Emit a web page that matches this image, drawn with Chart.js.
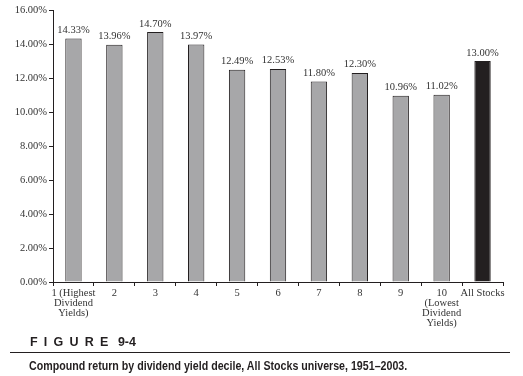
<!DOCTYPE html>
<html>
<head>
<meta charset="utf-8">
<script src="https://cdn.jsdelivr.net/npm/chart.js@4/dist/chart.umd.min.js"></script>
<style>
    body { margin: 0; background: #fff; }
    #wrap { position: relative; width: 523px; height: 376px; }
    #fig { position: absolute; left: 30px; top: 335px; font: bold 12.5px "Liberation Sans", Arial, sans-serif; color: #231f20; white-space: nowrap; }
    #fig .sp { letter-spacing: 6.2px; }
    #rule { position: absolute; left: 10px; top: 352px; width: 500px; height: 0; border-top: 1px solid #231f20; }
    #caption { position: absolute; left: 29px; top: 359px; font: bold 12px "Liberation Sans", Arial, sans-serif; color: #231f20; white-space: nowrap; transform: scaleX(0.887); transform-origin: left top; }
</style>
</head>
<body>
<div id="wrap">
    <canvas id="decile-chart" width="523" height="376"></canvas>
    <div id="fig"><span class="sp">FIGURE</span> 9-4</div>
    <div id="rule"></div>
    <div id="caption">Compound return by dividend yield decile, All Stocks universe, 1951–2003.</div>
</div>
<script>
var deciles = [
    ["1 (Highest", "Dividend", "Yields)"], "2", "3", "4", "5", "6", "7", "8", "9",
    ["10", "(Lowest", "Dividend", "Yields)"], "All Stocks"
];
var returns = [14.33, 13.96, 14.70, 13.97, 12.49, 12.53, 11.80, 12.30, 10.96, 11.02, 13.00];
var yTicks = [0, 2, 4, 6, 8, 10, 12, 14, 16];

var barColors = [];
returns.forEach(function (v, i) {
    barColors.push(i == returns.length - 1 ? "#231f20" : "#a7a7a9");
});

var serif = "'Liberation Serif', 'DejaVu Serif', serif";

// value labels above bars
var valueLabels = {
    id: 'valueLabels',
    afterDatasetsDraw: function (chart) {
        var ctx = chart.ctx;
        var meta = chart.getDatasetMeta(0);
        ctx.save();
        ctx.font = "10.5px " + serif;
        ctx.fillStyle = "#333";
        ctx.textAlign = "center";
        ctx.textBaseline = "bottom";
        meta.data.forEach(function (bar, i) {
            ctx.fillText(returns[i].toFixed(2) + "%", bar.x, bar.y - 3);
        });
        ctx.restore();
    }
};

var ctx = document.getElementById('decile-chart').getContext('2d');
var myChart = new Chart(ctx, {
    type: 'bar',
    data: {
        labels: deciles,
        datasets: [
        {
            data: returns,
            backgroundColor: barColors,
            borderColor: "#231f20",
            borderWidth: 1,
            barPercentage: 0.4,
            categoryPercentage: 1
        }
        ]
    },
    options: {
        responsive: false,
        animation: false,
        layout: { padding: { top: 10, left: 0, right: 20, bottom: 0 } },
        plugins: {
            legend: { display: false },
            tooltip: { enabled: false }
        },
        scales: {
            x: {
                offset: true,
                grid: {
                    offset: true,
                    drawOnChartArea: false,
                    tickLength: 4,
                    color: "#231f20"
                },
                border: { color: "#231f20" },
                ticks: {
                    color: "#333",
                    font: { family: serif, size: 10.5, lineHeight: 0.97 },
                    maxRotation: 0,
                    autoSkip: false,
                    padding: 2
                },
                afterFit: function (scale) { scale.height = 94; }
            },
            y: {
                min: 0,
                max: 16,
                afterBuildTicks: function (scale) {
                    scale.ticks = yTicks.map(function (v) { return { value: v }; });
                },
                grid: {
                    drawOnChartArea: false,
                    tickLength: 4,
                    color: "#231f20"
                },
                border: { color: "#231f20" },
                ticks: {
                    color: "#333",
                    font: { family: serif, size: 10.5 },
                    padding: 2,
                    callback: function (v) { return v.toFixed(2) + "%"; }
                },
                afterFit: function (scale) { scale.width = 53; }
            }
        }
    },
    plugins: [valueLabels]
});
</script>
</body>
</html>
